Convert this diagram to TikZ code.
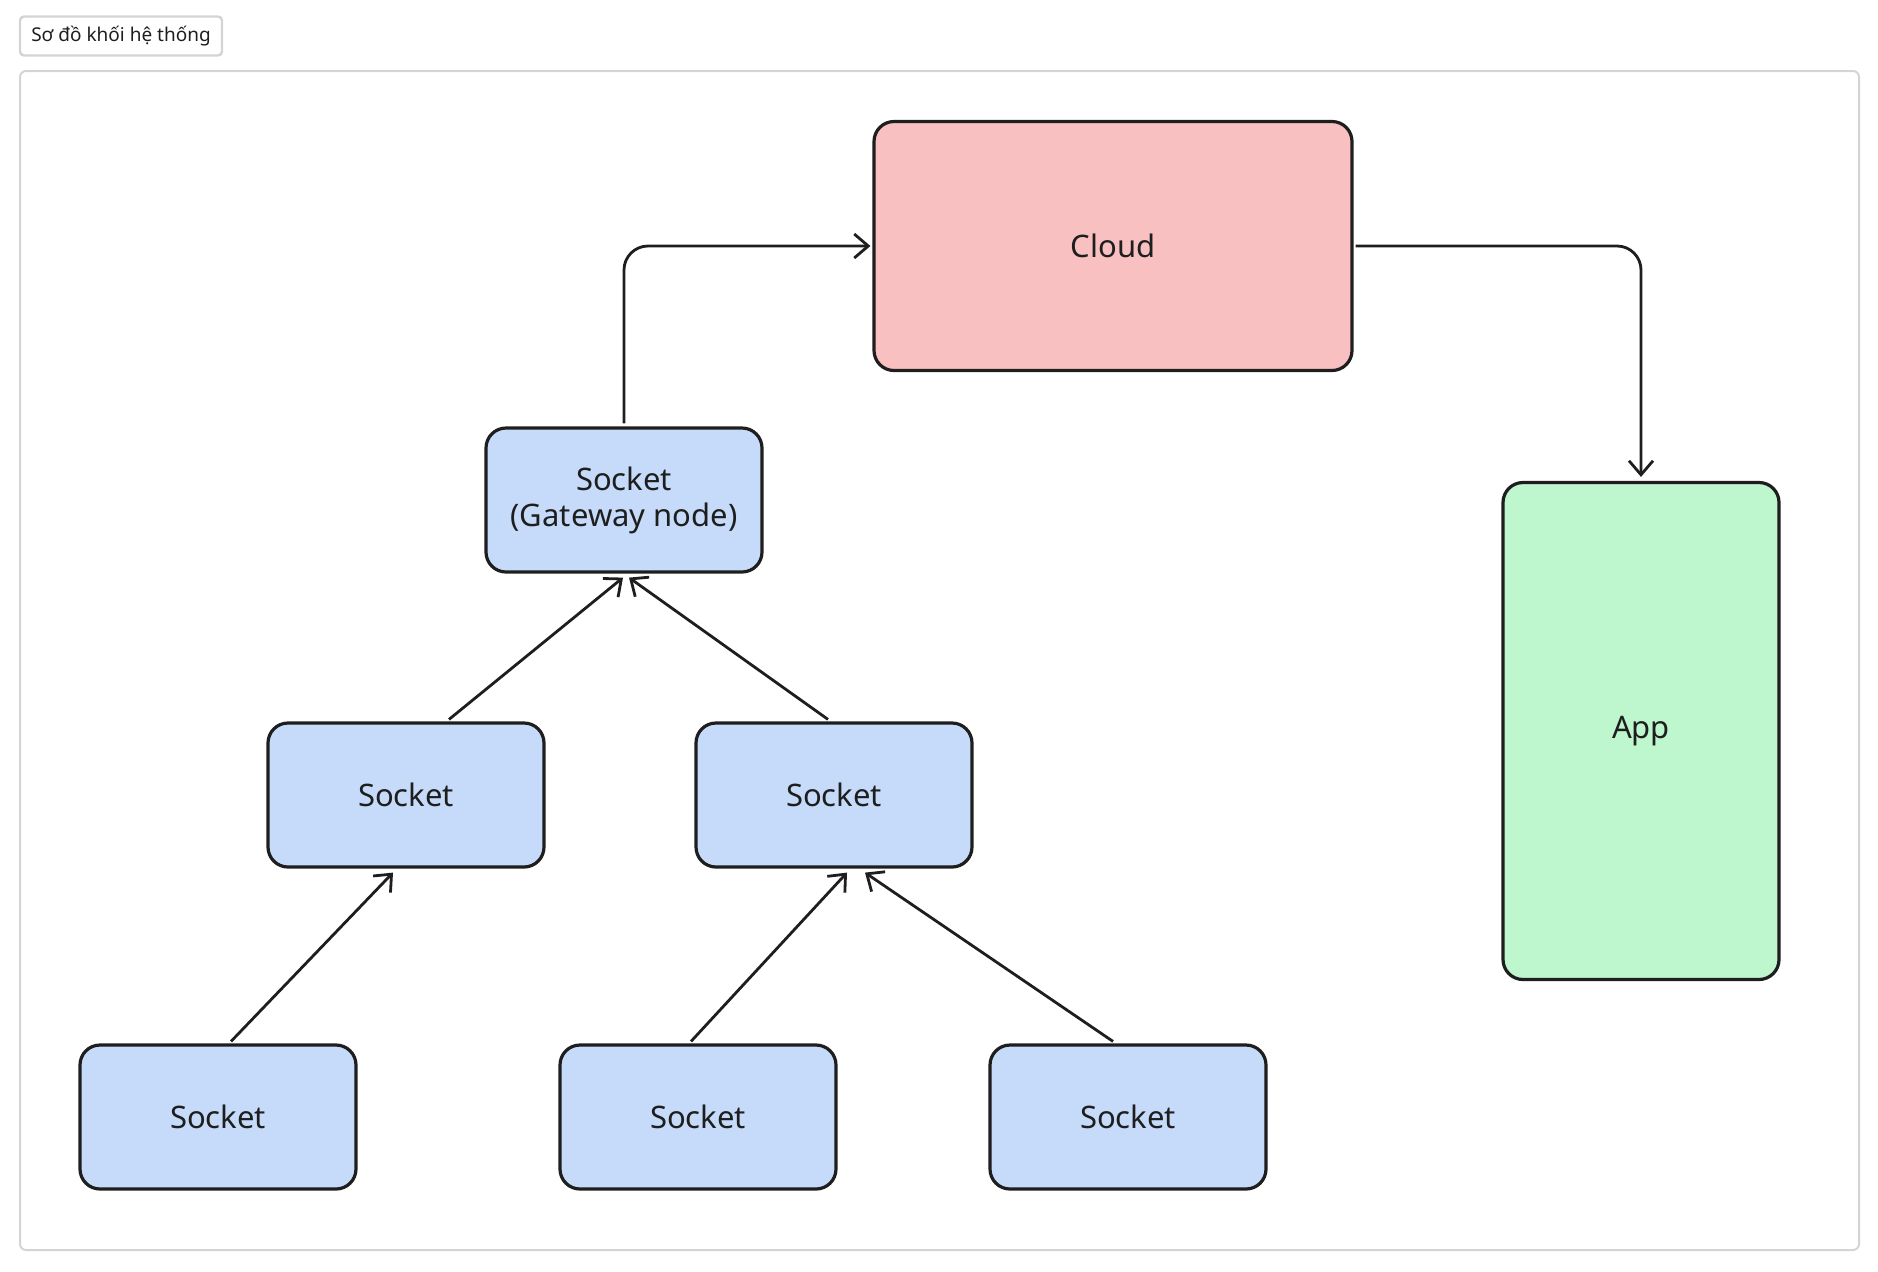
\documentclass[tikz,border=0pt]{standalone}
\usepackage{fontspec}
\setmainfont{Noto Sans}
\usetikzlibrary{arrows.meta}

\definecolor{sockblue}{HTML}{C6DBFA}
\definecolor{cloudpink}{HTML}{F8C0C1}
\definecolor{appgreen}{HTML}{BEF6CE}
\definecolor{inkline}{HTML}{1E1E1E}
\definecolor{framegray}{HTML}{D4D4D6}

\tikzset{
  box/.style={draw=inkline, line width=1.6pt, rounded corners=10pt, text=inkline,
    align=center, font=\fontsize{15.5}{18}\selectfont},
  socket/.style={box, fill=sockblue, minimum width=138pt, minimum height=72pt},
  link/.style={draw=inkline, line width=1.4pt, -{Straight Barb[length=7pt,width=12pt]}}
}

\begin{document}
\begin{tikzpicture}[x=0.5pt, y=-0.5pt]
      \useasboundingbox (0,0) rectangle (1878,1271);
      \draw[framegray, line width=1pt, rounded corners=3pt] (20,71) rectangle (1859,1250);
      \node[draw=framegray, line width=1.2pt, rounded corners=2pt, minimum width=101pt, minimum height=19.5pt, text=inkline, font=\fontsize{9.5}{11}\selectfont] (title) at (121,36) {Sơ đồ khối hệ thống};

      \node[box, fill=cloudpink, minimum width=239pt, minimum height=124.5pt] (cloud) at (1113,246) {Cloud};
      \node[box, fill=appgreen, minimum width=138pt, minimum height=248.5pt] (app) at (1641,731) {App};
      \node[socket] (gateway) at (624,500) {Socket\\(Gateway node)};
      \node[socket] (mid1) at (406,795) {Socket};
      \node[socket] (mid2) at (834,795) {Socket};
      \node[socket] (leaf1) at (218,1117) {Socket};
      \node[socket] (leaf2) at (698,1117) {Socket};
      \node[socket] (leaf3) at (1128,1117) {Socket};

      \draw[link, rounded corners=12pt] ([yshift=1.5pt]gateway.north) |- ([xshift=-1pt]cloud.west);
      \draw[link, rounded corners=12pt] ([xshift=1pt]cloud.east) -| ([yshift=2pt]app.north);
      \draw[link] ([xshift=21.5pt,yshift=1pt]mid1.north) -- ([xshift=-0.5pt,yshift=-2pt]gateway.south);
      \draw[link] ([xshift=-3pt,yshift=1pt]mid2.north) -- ([xshift=2.5pt,yshift=-2pt]gateway.south);
      \draw[link] ([xshift=6.5pt,yshift=1pt]leaf1.north) -- ([xshift=-6.5pt,yshift=-2pt]mid1.south);
      \draw[link] ([xshift=-3.5pt,yshift=1pt]leaf2.north) -- ([xshift=6.5pt,yshift=-2pt]mid2.south);
      \draw[link] ([xshift=-7.5pt,yshift=1pt]leaf3.north) -- ([xshift=15.5pt,yshift=-2pt]mid2.south);
\end{tikzpicture}
\end{document}
